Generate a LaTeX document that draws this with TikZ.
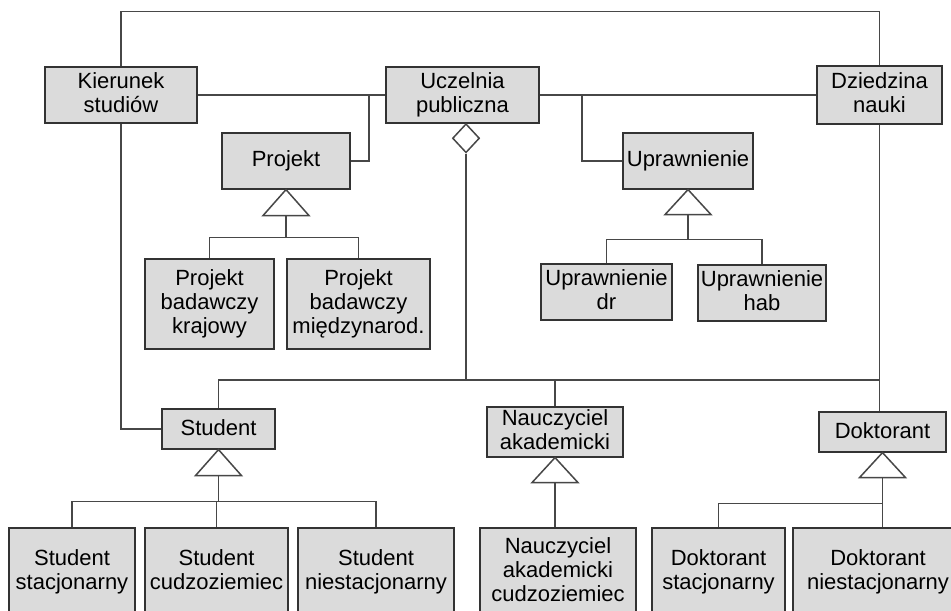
\documentclass[tikz,border=0pt]{standalone}
\usepackage{fontspec}
\setmainfont{Liberation Sans}
\usetikzlibrary{shapes.geometric, calc, positioning}
\newcommand{\clsstrut}{\rule[-2pt]{0pt}{10pt}}
\tikzstyle{cls} = [rectangle, align=center, inner sep=1pt, draw=black!80,
	fill=black!14, line width=0.6pt, font=\fontsize{11}{12}\selectfont,
	execute at begin node=\clsstrut, execute at end node=\clsstrut]
\tikzstyle{link} = [draw=black!72, line width=0.75pt]
\tikzstyle{gen} = [link, fill=white]
\tikzstyle{aggr} = [diamond, draw=black!72, fill=white, line width=0.75pt,
	inner sep=0pt, minimum width=13.5pt, minimum height=14.5pt]

\begin{document}
\begin{tikzpicture}[x=0.5pt, y=-0.5pt]
	\useasboundingbox (0,0) rectangle (951,610);
	\clip (0,0) rectangle (951,610);

	% set up top row
	\node (kierunek) [cls, minimum width=76pt, minimum height=28pt] at (121,95) {Kierunek\\studiów};
	\node (uczelnia) [cls, minimum width=76.5pt, minimum height=28pt] at (462.5,95) {Uczelnia\\publiczna};
	\node (dziedzina) [cls, minimum width=62.5pt, minimum height=29pt] at (879.5,95) {Dziedzina\\nauki};

	% set up middle nodes
	\node (projekt) [cls, minimum width=64pt, minimum height=28pt] at (286,161) {Projekt};
	\node (uprawnienie) [cls, minimum width=65pt, minimum height=28pt] at (688,161) {Uprawnienie};
	\node (pbk) [cls, minimum width=64.5pt, minimum height=45pt] at (209.5,304) {Projekt\\badawczy\\krajowy};
	\node (pbm) [cls, minimum width=71.5pt, minimum height=45pt] at (358.5,304) {Projekt\\badawczy\\międzynarod.};
	\node (updr) [cls, minimum width=65.5pt, minimum height=28pt] at (606.5,292) {Uprawnienie\\dr};
	\node (uphab) [cls, minimum width=64pt, minimum height=28pt] at (762,293) {Uprawnienie\\hab};

	% set up persons
	\node (student) [cls, minimum width=56.5pt, minimum height=20pt] at (218.5,429) {Student};
	\node (nauczyciel) [cls, minimum width=68pt, minimum height=25pt] at (555,432) {Nauczyciel\\akademicki};
	\node (doktorant) [cls, minimum width=63.5pt, minimum height=20pt] at (882.5,432) {Doktorant};

	% set up bottom row
	\node (sstac) [cls, minimum width=63pt, minimum height=43.5pt] at (72,571.5) {Student\\stacjonarny};
	\node (scudz) [cls, minimum width=71.5pt, minimum height=43.5pt] at (216.5,571.5) {Student\\cudzoziemiec};
	\node (sniest) [cls, minimum width=78pt, minimum height=43.5pt] at (376,571.5) {Student\\niestacjonarny};
	\node (ncudz) [cls, minimum width=78pt, minimum height=43.5pt] at (558,571.5) {Nauczyciel\\akademicki\\cudzoziemiec};
	\node (dstac) [cls, minimum width=66.5pt, minimum height=43.5pt] at (718.5,571.5) {Doktorant\\stacjonarny};
	\node (dniest) [cls, minimum width=85pt, minimum height=43.5pt] at (878,571.5) {Doktorant\\niestacjonarny};

	% set up associations
	\coordinate (jp) at (369,95);
	\coordinate (ju) at (582,95);
	\draw [link] (kierunek.north) -- ++(0,-55) -| (dziedzina.north);
	\draw [link] (kierunek.east) -- (uczelnia.west);
	\draw [link] (uczelnia.east) -- (dziedzina.west);
	\draw [link] (projekt.east) -| (jp);
	\draw [link] (uprawnienie.west) -| (ju);
	\draw [link] (kierunek.south) |- (student.west);
	\draw [link] (dziedzina.south) -- (dziedzina.south |- doktorant.north);

	% set up aggregation
	\node (agg) [aggr, anchor=north] at (466,123) {};
	\coordinate (bus) at (466,380);
	\draw [link] (agg.south) -- (bus);
	\draw [link] (student.north) |- (dziedzina.south |- bus);
	\draw [link] (nauczyciel.north) -- (nauczyciel.north |- bus);

	% set up generalizations
	\draw [gen] (projekt.south) -- ++(-23,26) -- ++(23,0) coordinate (tp) -- ++(23,0) -- cycle;
	\coordinate (bp) at ($(tp)+(0,22)$);
	\draw [link] (tp) -- (bp);
	\draw [link] (pbk.north) |- (bp) -| (pbm.north);

	\draw [gen] (uprawnienie.south) -- ++(-23,25) -- ++(23,0) coordinate (tu) -- ++(23,0) -- cycle;
	\coordinate (bu) at ($(tu)+(0,25)$);
	\draw [link] (tu) -- (bu);
	\draw [link] (updr.north) |- (bu) -| (uphab.north);

	\draw [gen] (student.south) -- ++(-23,26) -- ++(23,0) coordinate (ts) -- ++(23,0) -- cycle;
	\coordinate (bs) at ($(ts)+(0,26)$);
	\draw [link] (ts) -- (bs);
	\draw [link] (sstac.north) |- (bs) -| (sniest.north);
	\draw [link] (scudz.north) -- (scudz.north |- bs);

	\draw [gen] (nauczyciel.south) -- ++(-23,25) -- ++(23,0) coordinate (tn) -- ++(23,0) -- cycle;
	\draw [link] (tn) -- (tn |- ncudz.north);

	\draw [gen] (doktorant.south) -- ++(-23,25) -- ++(23,0) coordinate (td) -- ++(23,0) -- cycle;
	\coordinate (bd) at ($(td)+(0,26)$);
	\draw [link] (td) -- (td |- dniest.north);
	\draw [link] (dstac.north) |- (bd);

\end{tikzpicture}
\end{document}
